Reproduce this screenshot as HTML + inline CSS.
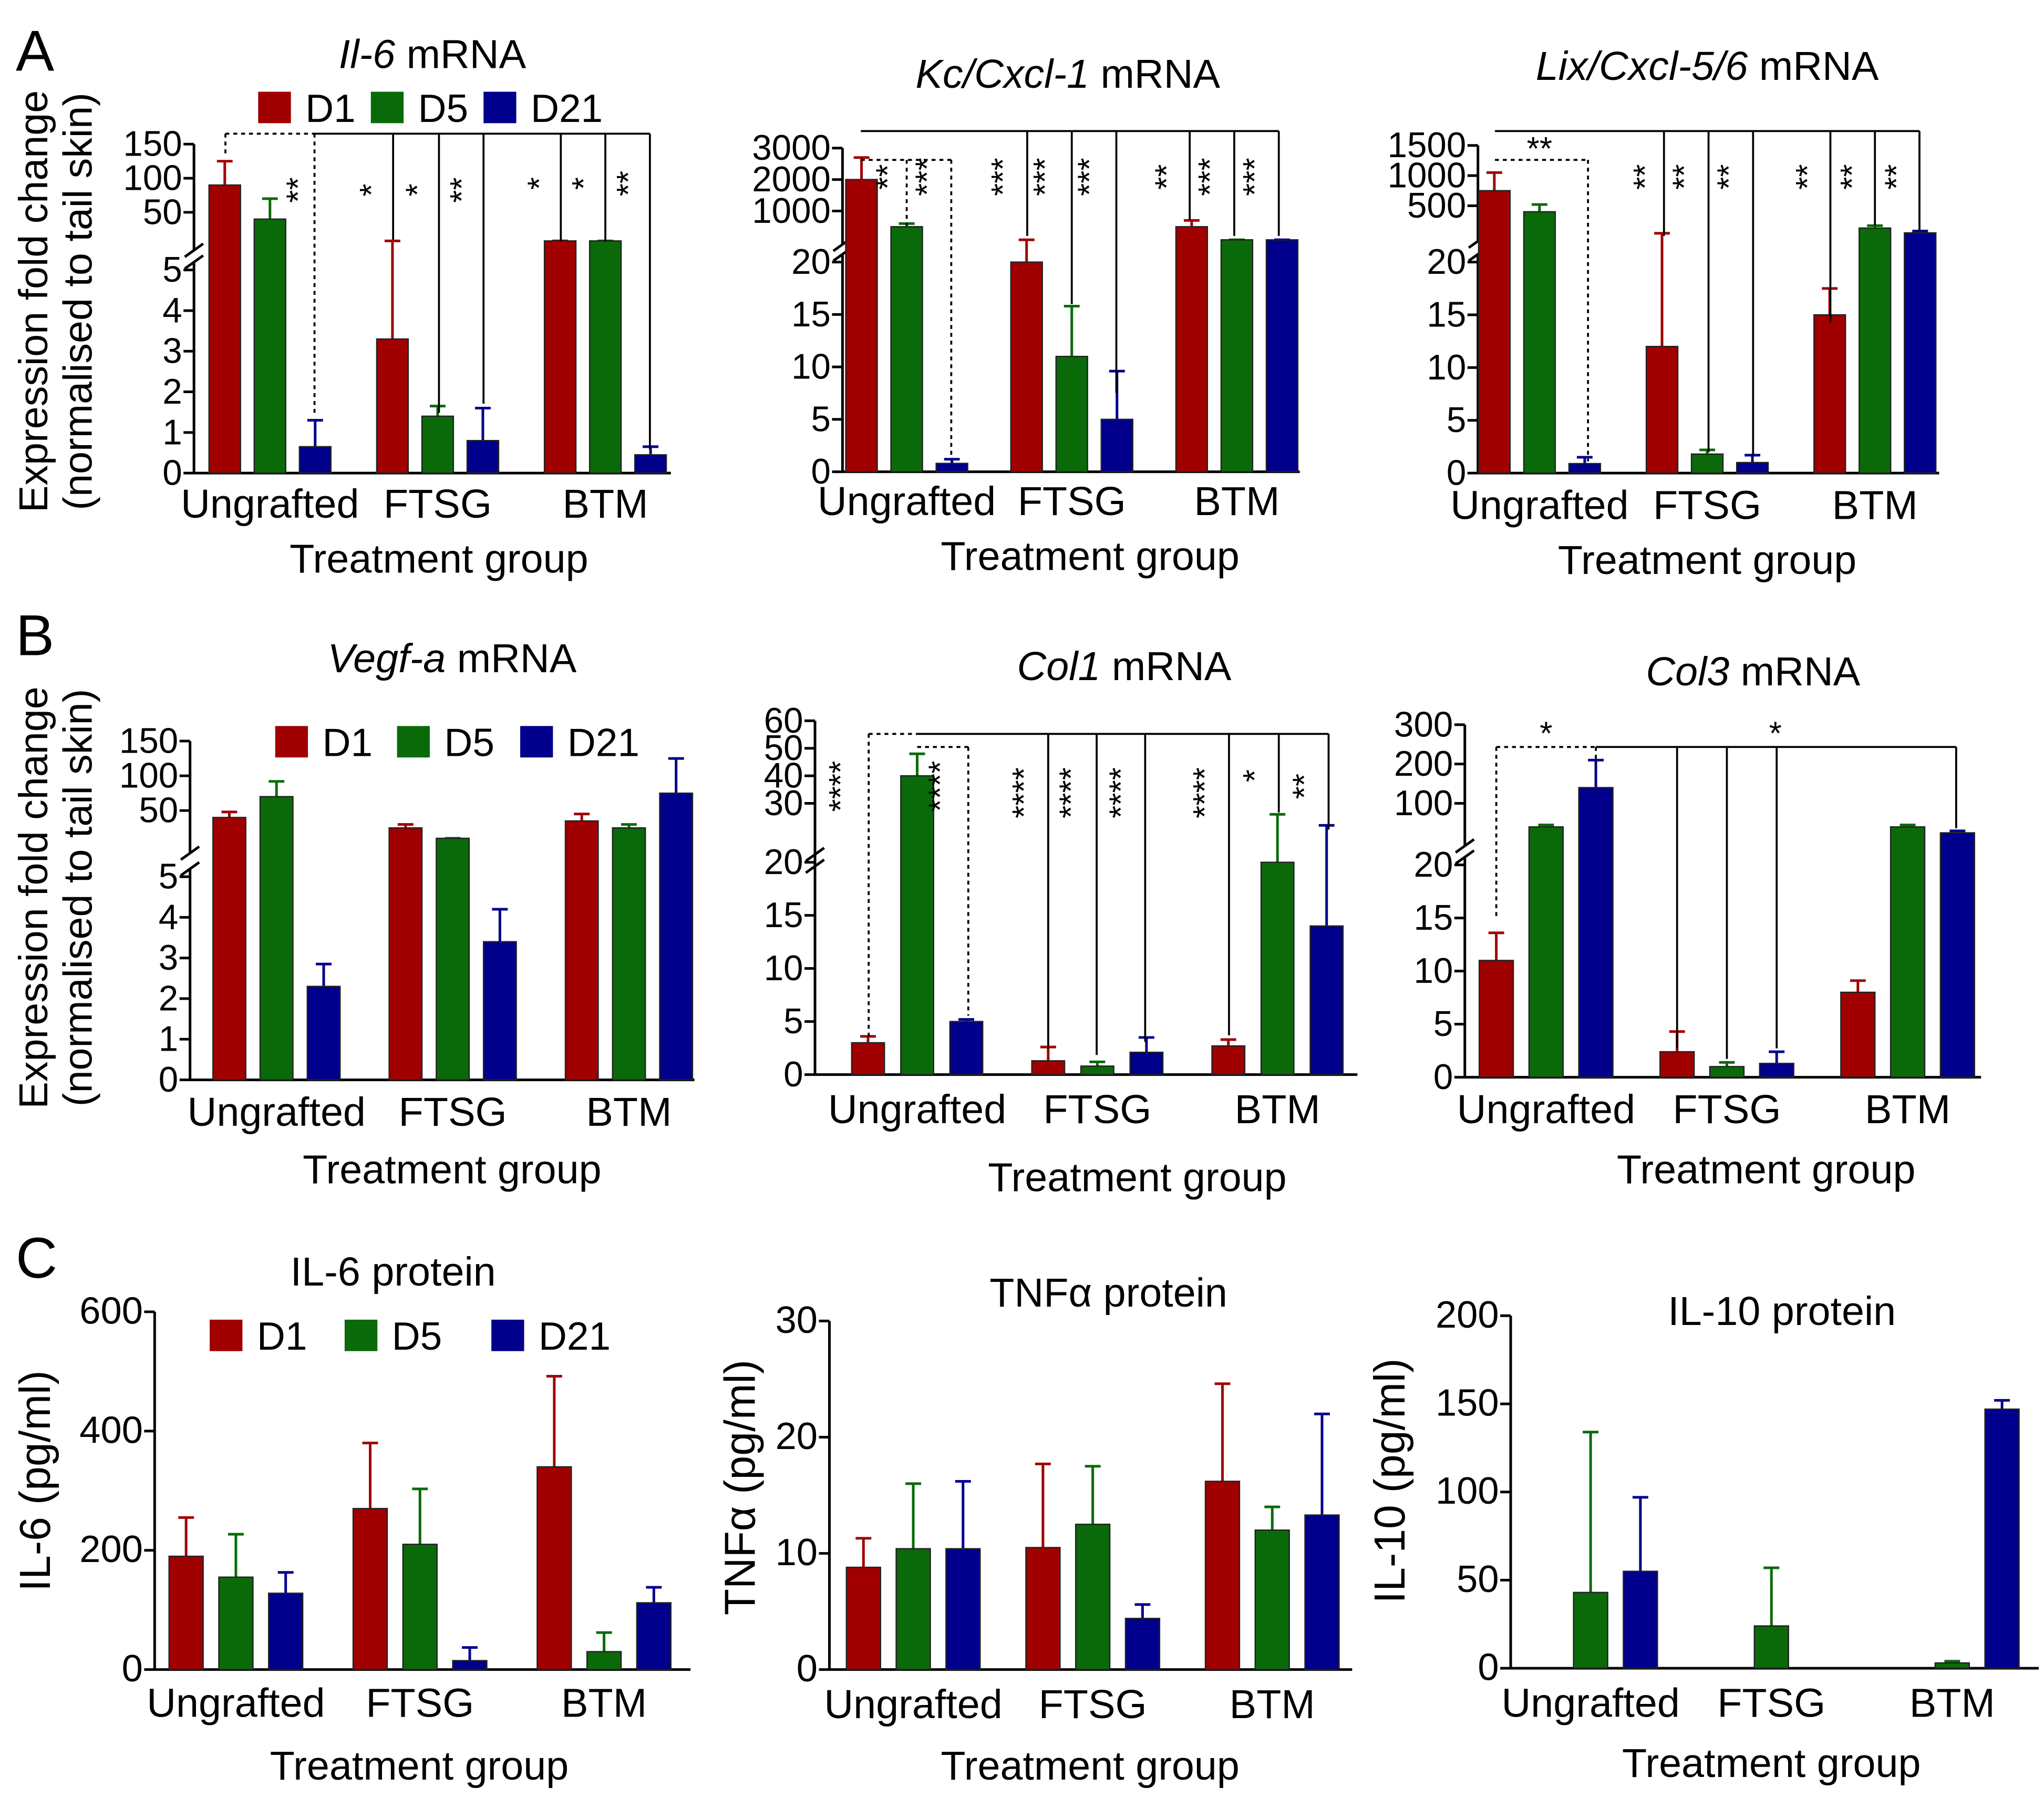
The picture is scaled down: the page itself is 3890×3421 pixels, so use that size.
<!DOCTYPE html>
<html><head><meta charset="utf-8"><style>
html,body{margin:0;padding:0;background:#fff;}
svg{display:block;font-family:"Liberation Sans",sans-serif;}
</style></head><body>
<svg id="fig" xmlns="http://www.w3.org/2000/svg" width="3890" height="3421" viewBox="0 0 1560 1372">
<rect x="0" y="0" width="1560" height="1372" fill="#fff"/>
<text x="12" y="54" font-size="44">A</text>
<text x="12" y="500" font-size="44">B</text>
<text x="12" y="975" font-size="44">C</text>
<g id="root"></g>
</svg>
<script>
const cats=['Ungrafted','FTSG','BTM'];
// A1 Il-6 mRNA
const il6mD1=[90,3.3,8]; const il6mD1Err=[125,8,8];
const il6mD5=[40,1.4,8]; const il6mD5Err=[70,1.65,8];
const il6mD21=[0.65,0.8,0.45]; const il6mD21Err=[1.3,1.6,0.65];
// A2 Kc/Cxcl-1
const kcD1=[2000,20,500]; const kcD1Err=[2700,60,700];
const kcD5=[500,11,60]; const kcD5Err=[600,15.8,60];
const kcD21=[0.8,5,60]; const kcD21Err=[1.2,9.6,60];
// A3 Lix
const lixD1=[750,12,15]; const lixD1Err=[1050,22,17.5];
const lixD5=[400,1.8,130]; const lixD5Err=[520,2.2,170];
const lixD21=[0.9,1,50]; const lixD21Err=[1.5,1.7,80];
// B1 Vegf-a
const vegfD1=[40,25,35]; const vegfD1Err=[48,30,45];
const vegfD5=[70,10,25]; const vegfD5Err=[92,10,30];
const vegfD21=[2.3,3.4,75]; const vegfD21Err=[2.85,4.2,125];
// B2 Col1
const col1D1=[3,1.3,2.7]; const col1D1Err=[3.6,2.6,3.3];
const col1D5=[40,0.8,20]; const col1D5Err=[48,1.2,26];
const col1D21=[5,2.1,14]; const col1D21Err=[5.2,3.5,22];
// B3 Col3
const col3D1=[11,2.4,8]; const col3D1Err=[13.6,4.3,9.1];
const col3D5=[40,1,40]; const col3D5Err=[45,1.4,45];
const col3D21=[140,1.3,25]; const col3D21Err=[210,2.4,30];
// C1 IL-6 protein
const il6pD1=[190,270,340]; const il6pD1Err=[255,380,492];
const il6pD5=[155,210,30]; const il6pD5Err=[227,303,62];
const il6pD21=[128,15,112]; const il6pD21Err=[163,37,138];
// C2 TNFa
const tnfD1=[8.8,10.5,16.2]; const tnfD1Err=[11.3,17.7,24.6];
const tnfD5=[10.4,12.5,12]; const tnfD5Err=[16,17.5,14];
const tnfD21=[10.4,4.4,13.3]; const tnfD21Err=[16.2,5.6,22];
// C3 IL-10
const il10D1=[0,0,0]; const il10D1Err=[0,0,0];
const il10D5=[43,24,3]; const il10D5Err=[134,57,4];
const il10D21=[55,0,147]; const il10D21Err=[97,0,152];
// tick labels
const ticksLow5=[0,1,2,3,4,5];
const ticksLow20=[0,5,10,15,20];
const ticksUpIl6=[50,100,150];
const ticksUpKc=[1000,2000,3000];
const ticksUpLix=[500,1000,1500];
const ticksUpCol1=[30,40,50,60];
const ticksUpCol3=[100,200,300];
const ticksIl6p=[0,200,400,600];
const ticksTnf=[0,10,20,30];
const ticksIl10=[0,50,100,150,200];

const NS='http://www.w3.org/2000/svg';
const root=document.getElementById('root');
const COLS=['#a00000','#0a6a0a','#00008c'];
const LFS=31;
function mk(tag,attrs,parent,txt){const e=document.createElementNS(NS,tag);for(const k in attrs)e.setAttribute(k,attrs[k]);if(txt!==undefined)e.textContent=txt;(parent||root).appendChild(e);return e;}

function panel(P){
  const g=mk('g',{});
  
  
  const y=v=>{
    if(!P.up||v<=P.lowMax) return P.base-(P.base-P.lowTop)*Math.min(v,P.lowMax)/P.lowMax;
    return Math.min(P.up.y0-P.up.k*v, P.up.y0-2);
  };
  const topY=P.up?(P.up.y0-P.up.k*P.upTicks[P.upTicks.length-1]):y(P.lowMax);
  if(P.up){
    const ax1=mk('line',{x1:P.x0,x2:P.x0,y1:P.base,y2:P.lowTop-6,stroke:'#000','stroke-width':2},g);
    
    
    const by=(P.lowTop+P.up.y0)/2;
    const ax2=mk('line',{x1:P.x0,x2:P.x0,y1:by-6,y2:topY,stroke:'#000','stroke-width':2},g);
    
    
    [by-6,P.lowTop-6].forEach(yy=>{const b=mk('line',{x1:P.x0-7,x2:P.x0+7,y1:yy+5,y2:yy-5,stroke:'#000','stroke-width':2},g);
      
      });
  } else {
    const ax=mk('line',{x1:P.x0,x2:P.x0,y1:P.base,y2:topY,stroke:'#000','stroke-width':2},g);
    
    
  }
  const xa=mk('line',{x1:P.x0,x2:P.x1,y1:P.base,y2:P.base,stroke:'#000','stroke-width':2},g);
  
  
  const allT=P.lowTicks.map(v=>[v,P.up?P.base-(P.base-P.lowTop)*v/P.lowMax:y(v)]).concat((P.upTicks||[]).map(v=>[v,P.up.y0-P.up.k*v]));
  allT.forEach(([v,yy])=>{
    const t=mk('line',{x1:P.x0-8,x2:P.x0,y1:yy,y2:yy,stroke:'#000','stroke-width':2},g);
    
    
    const l=mk('text',{x:P.x0-9,y:yy+9,'font-size':P.tfs||27,'text-anchor':'end'},g,String(v));
    
    
  });
  const series=[[P.d1,P.e1],[P.d5,P.e5],[P.d21,P.e21]];
  cats.forEach((c,ci)=>{
    const gc=P.gc0+ci*P.step;
    series.forEach(([vals,errs],si)=>{
      const v=vals[ci]; if(!v) return;
      const cx=gc+(si-1)*P.off; const col=COLS[si];
      const ey=y(errs[ci]);
      const el=mk('line',{x1:cx,x2:cx,y1:y(v),y2:ey,stroke:col,'stroke-width':2},g);
      
      
      const cp=mk('line',{x1:cx-6,x2:cx+6,y1:ey,y2:ey,stroke:col,'stroke-width':2},g);
      
      
      const r=mk('rect',{x:cx-P.bw/2,y:y(v),width:P.bw,height:P.base-y(v),fill:col,stroke:'#222','stroke-width':1},g);
      
      
    });
    const xl=mk('text',{x:gc,y:P.labY,'font-size':LFS,'text-anchor':'middle'},g,c);
    
    
  });
  const tg=mk('text',{x:P.tgX,y:P.tgY,'font-size':LFS,'text-anchor':'middle'},g,'Treatment group');
  
  
  const tt=mk('text',{x:P.titleX,y:P.titleY,'font-size':LFS,'text-anchor':'middle'},g);
  
  
  if(P.it){mk('tspan',{'font-style':'italic'},tt,P.it);mk('tspan',{},tt,P.rest);} else tt.textContent=P.rest;
  (P.sig||[]).forEach(s=>{
    if(s[0]==='h'||s[0]==='v'){
      const a=s[0]==='h'?{x1:s[1],x2:s[2],y1:s[3],y2:s[3]}:{x1:s[1],x2:s[1],y1:s[2],y2:s[3]};
      a.stroke='#000';a['stroke-width']=1.5;if(s[4])a['stroke-dasharray']='3,3';
      const l=mk('line',a,g);
      
      
    } else {
      const st=mk('text',{x:s[1],y:s[2],'font-size':25,'text-anchor':'middle',transform:s[4]?'':`rotate(-90 ${s[1]} ${s[2]})`},g,s[3]);
      
      
    }
  });
  return g;
}
function legend(x,y,name){
  const g=mk('g',{});
  
  
  [['D1',0],['D5',1],['D21',2]].forEach(([lab,i])=>{
    const xx=x[i];
    const r=mk('rect',{x:xx,y:y-12,width:25,height:24,fill:COLS[i]},g);
    
    
    const t=mk('text',{x:xx+36,y:y+11,'font-size':30},g,lab);
    
    
  });
}
function ytitle(x,y,txt,name,fs){
  const t=mk('text',{x:x,y:y,'font-size':fs||31,'text-anchor':'middle',transform:`rotate(-90 ${x} ${y})`},root,txt);
  
  
}

panel({name:'chart-il6-mrna',base:361,x0:148,x1:512,lowMax:5,lowTop:206,up:{y0:188,k:0.52},lowTicks:ticksLow5,upTicks:ticksUpIl6,
  gc0:206,step:128,off:34.5,bw:24,d1:il6mD1,e1:il6mD1Err,d5:il6mD5,e5:il6mD5Err,d21:il6mD21,e21:il6mD21Err,
  labY:395,tgX:335,tgY:437,titleX:330,titleY:52,it:'Il-6',rest:' mRNA',
  sig:[['h',172,240,102,1],['h',240,496,102,0],['v',172,102,118,1],['v',240,102,318,1],['v',300,102,183,0],['v',335,102,315,0],['v',369,102,308,0],['v',428,102,184,0],['v',462,102,184,0],['v',496,102,343,0],
  ['s',236,145,'**'],['s',292,145,'*'],['s',327,145,'*'],['s',361,145,'**'],['s',420,140,'*'],['s',454,140,'*'],['s',488,140,'**']]});
legend([197,283,369],82,'legend-a');
ytitle(36,230,'Expression fold change','y-axis-title-a-line1');
ytitle(70,230,'(normalised to tail skin)','y-axis-title-a-line2');

panel({name:'chart-kc-mrna',base:360,x0:643,x1:992,lowMax:20,lowTop:200,up:{y0:185,k:0.024},lowTicks:ticksLow20,upTicks:ticksUpKc,
  gc0:692,step:126,off:34.5,bw:24,d1:kcD1,e1:kcD1Err,d5:kcD5,e5:kcD5Err,d21:kcD21,e21:kcD21Err,
  labY:393,tgX:832,tgY:435,titleX:815,titleY:67,it:'Kc/Cxcl-1',rest:' mRNA',
  sig:[['h',657,976,100,0],['h',657,726,122,1],['v',692,122,172,1],['v',726,122,350,1],['v',784,100,180,0],['v',818,100,232,0],['v',852,100,300,0],['v',908,100,168,0],['v',942,100,180,0],['v',976,100,180,0],
  ['s',686,135,'**'],['s',716,135,'***'],['s',774,135,'***'],['s',806,135,'***'],['s',840,135,'***'],['s',899,135,'**'],['s',932,135,'***'],['s',966,135,'***']]});

panel({name:'chart-lix-mrna',base:361,x0:1128,x1:1480,lowMax:20,lowTop:200,up:{y0:180,k:0.046},lowTicks:ticksLow20,upTicks:ticksUpLix,
  gc0:1175,step:128,off:34.5,bw:24,d1:lixD1,e1:lixD1Err,d5:lixD5,e5:lixD5Err,d21:lixD21,e21:lixD21Err,
  labY:396,tgX:1303,tgY:438,titleX:1303,titleY:61,it:'Lix/Cxcl-5/6',rest:' mRNA',
  sig:[['h',1141,1465,100,0],['h',1141,1212,122,1],['v',1212,122,352,1],['v',1270,100,180,0],['v',1304,100,345,0],['v',1338,100,348,0],['v',1397,100,246,0],['v',1431,100,172,0],['v',1465,100,176,0],
  ['s',1175,122,'**',1],['s',1264,135,'**'],['s',1294,135,'**'],['s',1328,135,'**'],['s',1388,135,'**'],['s',1422,135,'**'],['s',1456,135,'**']]});

panel({name:'chart-vegfa-mrna',base:824,x0:145,x1:530,lowMax:5,lowTop:669,up:{y0:645,k:0.53},lowTicks:ticksLow5,upTicks:ticksUpIl6,
  gc0:211,step:134.5,off:36,bw:25,d1:vegfD1,e1:vegfD1Err,d5:vegfD5,e5:vegfD5Err,d21:vegfD21,e21:vegfD21Err,
  labY:859,tgX:345,tgY:903,titleX:345,titleY:513,it:'Vegf-a',rest:' mRNA'});
legend([210,303,397],566,'legend-b');
ytitle(36,685,'Expression fold change','y-axis-title-b-line1');
ytitle(70,685,'(normalised to tail skin)','y-axis-title-b-line2');

panel({name:'chart-col1-mrna',base:820,x0:622,x1:1036,lowMax:20,lowTop:658,up:{y0:676,k:2.1},lowTicks:ticksLow20,upTicks:ticksUpCol1,
  gc0:700,step:137.5,off:37.5,bw:25,d1:col1D1,e1:col1D1Err,d5:col1D5,e5:col1D5Err,d21:col1D21,e21:col1D21Err,
  labY:857,tgX:868,tgY:909,titleX:858,titleY:519,it:'Col1',rest:' mRNA',
  sig:[['h',663,700,560,1],['h',700,1014,560,0],['h',700,739,570,1],['v',663,560,793,1],['v',739,570,775,1],['v',800,560,800,0],['v',837,560,805,0],['v',874,560,795,0],['v',938,560,790,0],['v',976,560,620,0],['v',1014,560,633,0],
  ['s',650,600,'****'],['s',726,600,'****'],['s',790,605,'****'],['s',826,605,'****'],['s',864,605,'****'],['s',928,605,'****'],['s',966,592,'*'],['s',1004,600,'**']]});

panel({name:'chart-col3-mrna',base:822,x0:1118,x1:1512,lowMax:20,lowTop:660,up:{y0:643,k:0.3},lowTicks:ticksLow20,upTicks:ticksUpCol3,
  gc0:1180,step:138,off:38,bw:26,d1:col3D1,e1:col3D1Err,d5:col3D5,e5:col3D5Err,d21:col3D21,e21:col3D21Err,
  labY:857,tgX:1348,tgY:903,titleX:1338,titleY:523,it:'Col3',rest:' mRNA',
  sig:[['h',1142,1218,570,1],['h',1218,1493,570,0],['v',1142,570,700,1],['v',1218,570,580,1],['v',1280,570,800,0],['v',1318,570,808,0],['v',1356,570,800,0],['v',1493,570,632,0],
  ['s',1180,568,'*',1],['s',1355,568,'*',1]]});

panel({name:'chart-il6-protein',base:1274,x0:118,x1:527,lowMax:600,lowTop:1001,up:null,lowTicks:ticksIl6p,
  gc0:180,step:140.5,off:38,bw:26,d1:il6pD1,e1:il6pD1Err,d5:il6pD5,e5:il6pD5Err,d21:il6pD21,e21:il6pD21Err,
  labY:1310,tgX:320,tgY:1358,titleX:300,titleY:981,rest:'IL-6 protein',tfs:29});
legend([160,263,375],1019,'legend-c');
ytitle(38,1130,'IL-6 (pg/ml)','y-axis-title-il6-protein',33);

panel({name:'chart-tnfa-protein',base:1274,x0:633,x1:1032,lowMax:30,lowTop:1008,up:null,lowTicks:ticksTnf,
  gc0:697,step:137,off:38,bw:26,d1:tnfD1,e1:tnfD1Err,d5:tnfD5,e5:tnfD5Err,d21:tnfD21,e21:tnfD21Err,
  labY:1311,tgX:832,tgY:1358,titleX:846,titleY:997,rest:'TNFα protein',tfs:29});
ytitle(576,1135,'TNFα (pg/ml)','y-axis-title-tnfa-protein',33);

panel({name:'chart-il10-protein',base:1273,x0:1153,x1:1556,lowMax:200,lowTop:1004,up:null,lowTicks:ticksIl10,
  gc0:1214,step:138,off:38,bw:26,d1:il10D1,e1:il10D1Err,d5:il10D5,e5:il10D5Err,d21:il10D21,e21:il10D21Err,
  labY:1310,tgX:1352,tgY:1356,titleX:1360,titleY:1011,rest:'IL-10 protein',tfs:29});
ytitle(1072,1130,'IL-10 (pg/ml)','y-axis-title-il10-protein',33);
</script>
</body></html>
